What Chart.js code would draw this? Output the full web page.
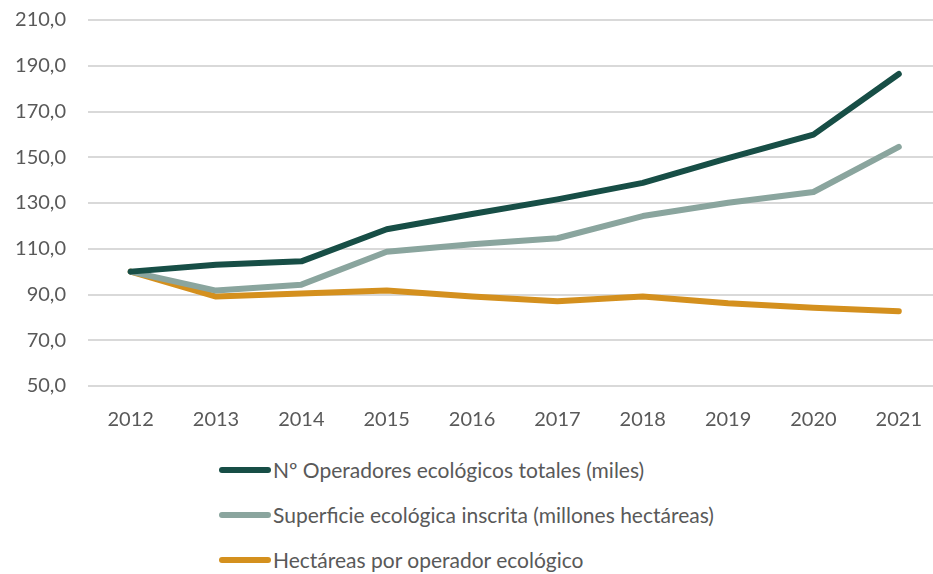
<!DOCTYPE html>
<html>
<head>
<meta charset="utf-8">
<script src="https://cdn.jsdelivr.net/npm/chart.js@4"></script>
<style>
  html, body { margin: 0; padding: 0; background: #fff; overflow: hidden; }
  #wrap { position: relative; width: 933px; height: 574px; overflow: hidden; }
  #box { position: absolute; left: 0; top: -14px; width: 944px; height: 454px; }
  #legend { position: absolute; left: 219px; top: 447px; font-family: Lato, "Liberation Sans", sans-serif; font-size: 21px; color: #595959; }
  .item { height: 45px; display: flex; align-items: center; }
  .swatch { width: 52px; height: 6px; border-radius: 3px; margin-right: 2px; }
</style>
</head>
<body>
<div id="wrap">
  <div id="box"><canvas id="ecoChart" width="944" height="454"></canvas></div>
  <div id="legend"></div>
</div>
<script>
const years = ['2012', '2013', '2014', '2015', '2016', '2017', '2018', '2019', '2020', '2021'];
const operadores = [100, 103, 104.5, 118.5, 125.2, 131.6, 138.8, 149.6, 159.9, 186.4];
const superficie = [100, 91.7, 94.3, 108.7, 112, 114.6, 124.3, 130.1, 134.8, 154.5];
const hectareas = [100, 89.1, 90.4, 91.7, 89.1, 87.1, 89.1, 86.2, 84.2, 82.7];
const seriesNames = [
    'Nº Operadores ecológicos totales (miles)',
    'Superficie ecológica inscrita (millones hectáreas)',
    'Hectáreas por operador ecológico'
];
const colors = ['#174e46', '#8aa59e', '#d4901e'];

function makeSet(i, values) {
    return {
        label: seriesNames[i],
        data: values,
        borderColor: colors[i],
        backgroundColor: colors[i],
        borderWidth: 6,
        pointRadius: 0,
        fill: false,
        tension: 0,
        borderCapStyle: 'round',
        borderJoinStyle: 'round'
    };
}

const ctx = document.getElementById('ecoChart').getContext('2d');
const ecoChart = new Chart(ctx, {
    type: 'line',
    data: {
        labels: years,
        datasets: [makeSet(0, operadores), makeSet(1, superficie), makeSet(2, hectareas)]
    },
    options: {
        responsive: false,
        animation: false,
        layout: { padding: { top: 4, right: 0, left: 0, bottom: 0 } },
        plugins: {
            legend: { display: false },
            tooltip: { enabled: false }
        },
        scales: {
            x: {
                offset: true,
                grid: { display: false, drawTicks: false },
                border: { display: false },
                ticks: {
                    color: '#595959',
                    font: { family: 'Lato', size: 20 },
                    padding: 22,
                    maxRotation: 0
                },
                afterFit: function (scale) { scale.height = 54; }
            },
            y: {
                min: 50,
                max: 210,
                grid: { color: '#d9d9d9', lineWidth: 2, drawTicks: false },
                border: { display: false },
                ticks: {
                    stepSize: 20,
                    color: '#595959',
                    font: { family: 'Lato', size: 20 },
                    padding: 22,
                    callback: function (v) { return v.toFixed(1).replace('.', ','); }
                },
                afterFit: function (scale) { scale.width = 88; }
            }
        }
    }
});

const legend = document.getElementById('legend');
seriesNames.forEach(function (name, i) {
    const row = document.createElement('div');
    row.className = 'item';
    const sw = document.createElement('span');
    sw.className = 'swatch';
    sw.style.background = colors[i];
    const txt = document.createElement('span');
    txt.textContent = name;
    row.appendChild(sw);
    row.appendChild(txt);
    legend.appendChild(row);
});
</script>
</body>
</html>
